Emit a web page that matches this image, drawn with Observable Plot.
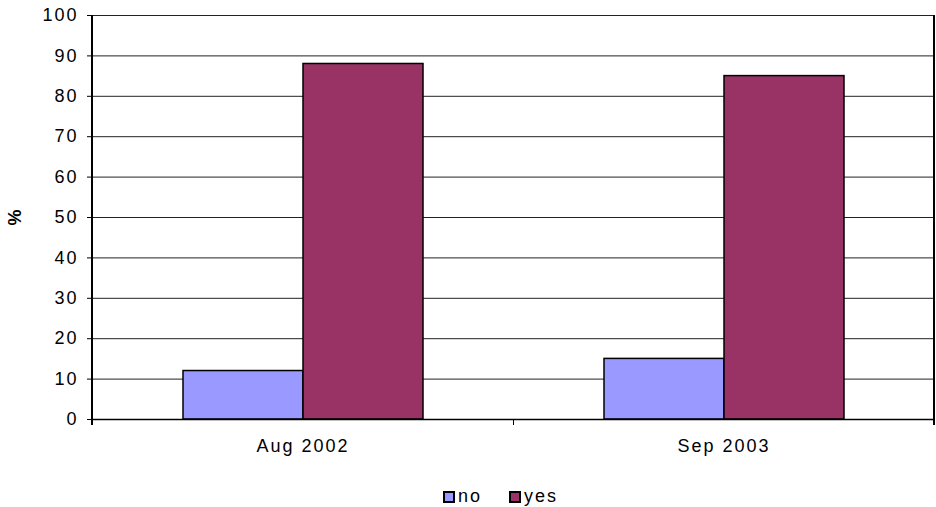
<!DOCTYPE html>
<html>
<head>
<meta charset="utf-8">
<script src="https://cdn.jsdelivr.net/npm/d3@7"></script>
<script src="https://cdn.jsdelivr.net/npm/@observablehq/plot@0.6"></script>
<style>
  body { margin: 0; background: #fff; font-family: "Liberation Sans", Arial, sans-serif; }
  #chart svg text { letter-spacing: 2px; }
  #chart g[aria-label="y-axis label"] text { font-weight: bold; letter-spacing: 0; }
  #key { display: flex; justify-content: center; padding-left: 80px; width: 856px; }
</style>
</head>
<body>
<div id="chart"></div>
<div id="key"></div>
<script>
// Survey answers by period, in percent
const periods = ["Aug 2002", "Sep 2003"];
const answers = ["no", "yes"];
const noValues = [12, 15];
const yesValues = [88, 85];
const answerColors = ["#9999FF", "#993366"];
const yTicks = [0, 10, 20, 30, 40, 50, 60, 70, 80, 90, 100];

const rows = periods.flatMap((period, i) => [
  {period, answer: "no", value: noValues[i]},
  {period, answer: "yes", value: yesValues[i]}
]);

const chart = Plot.plot({
  width: 936,
  height: 480,
  marginLeft: 91,
  marginRight: 2,
  marginTop: 15,
  marginBottom: 61,
  style: {fontFamily: "Liberation Sans, Arial, sans-serif", fontSize: "18px", color: "#000", background: "#fff"},
  fx: {domain: periods, padding: 0, label: null, axis: null},
  x: {domain: answers, paddingInner: 0, paddingOuter: 0.742, axis: null},
  y: {domain: [0, 100], label: "%"},
  color: {domain: answers, range: answerColors},
  marks: [
    Plot.gridY(yTicks, {stroke: "#222", strokeOpacity: 1}),
    Plot.axisY(yTicks, {tickSize: 5, tickPadding: 9, fontSize: 18, label: "%", labelAnchor: "center", labelArrow: "none", labelOffset: 84}),
    Plot.axisFx({anchor: "bottom", tickSize: 0, tickPadding: 20, fontSize: 18, label: null}),
    Plot.barY(rows, {fx: "period", x: "answer", y: "value", fill: "answer", stroke: "#000", strokeWidth: 1.5}),
    Plot.ruleY([0], {stroke: "#000", strokeWidth: 1.5})
  ]
});

document.getElementById("chart").append(chart);

// Axis line, right border and category boundary ticks, placed from the plot's scales
const fx = chart.scale("fx");
const y = chart.scale("y");
const y0 = y.apply(0), yTop = y.apply(100);
const edges = [...periods.map(p => fx.apply(p)), fx.apply(periods[periods.length - 1]) + fx.bandwidth];
const deco = d3.select(chart).append("g")
  .attr("stroke", "#000")
  .attr("stroke-width", 1.5)
  .attr("shape-rendering", "crispEdges");
deco.append("line").attr("x1", edges[0]).attr("x2", edges[0]).attr("y1", yTop).attr("y2", y0 + 6);
deco.append("line").attr("x1", edges[edges.length - 1]).attr("x2", edges[edges.length - 1]).attr("y1", yTop).attr("y2", y0 + 6);
deco.selectAll(".edge").data(edges.slice(1, -1)).join("line")
  .attr("x1", d => d).attr("x2", d => d).attr("y1", y0).attr("y2", y0 + 6)
  .attr("stroke-width", 1);

// Legend: outlined square swatches, spaced like the chart's text
const legend = chart.legend("color", {swatchSize: 10});
legend.style.fontFamily = "Liberation Sans, Arial, sans-serif";
legend.style.fontSize = "18px";
legend.style.color = "#000";
legend.style.letterSpacing = "2px";
const items = legend.querySelectorAll("span");
items.forEach((item, i) => {
  item.style.marginRight = "14px";
  if (i < items.length - 1 && item.lastChild) item.lastChild.textContent += "\u00a0\u00a0";
});
legend.querySelectorAll("svg").forEach(sw => { sw.style.marginRight = "4px"; });
legend.querySelectorAll("svg rect").forEach(r => { r.setAttribute("stroke", "#000"); r.setAttribute("stroke-width", 2); });
document.getElementById("key").append(legend);
</script>
</body>
</html>
